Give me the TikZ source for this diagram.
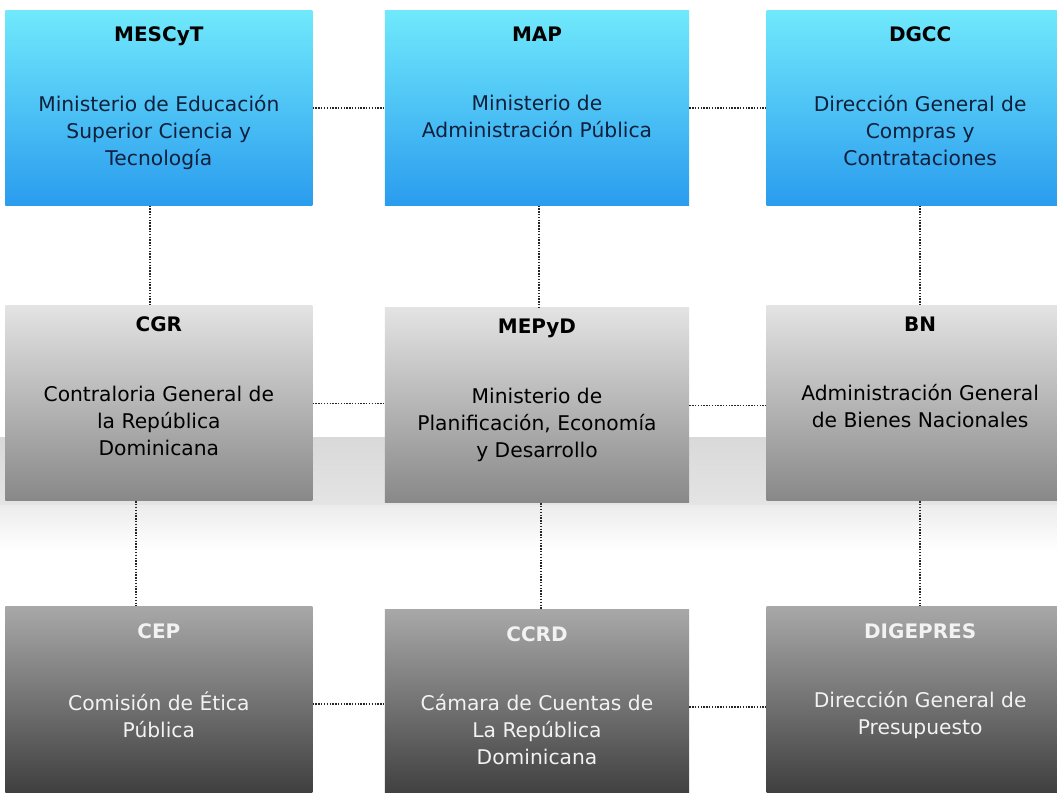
\documentclass[tikz,border=0pt]{standalone}
\usepackage{fontspec}
\setmainfont{DejaVu Sans}
\usetikzlibrary{positioning,calc}
\definecolor{cyantop}{HTML}{70E9FC}
\definecolor{cyanbot}{HTML}{2A9CEE}
\definecolor{greytop}{HTML}{E3E3E3}
\definecolor{greybot}{HTML}{888888}
\definecolor{darktop}{HTML}{A8A8A8}
\definecolor{darkbot}{HTML}{3A3A3A}
\definecolor{navytext}{HTML}{10203C}
\definecolor{lighttext}{HTML}{F2F2F2}
\definecolor{linkgrey}{HTML}{262626}
\definecolor{bandtop}{HTML}{D9D9D9}
\definecolor{bandbot}{HTML}{E4E4E4}
\definecolor{fadetop}{HTML}{ECECEC}

\begin{document}
\begin{tikzpicture}[
  x=0.025cm, y=-0.025cm,
  org/.style={rectangle, inner sep=0pt, minimum width=7.675cm, minimum height=4.875cm},
  bluebox/.style={org, top color=cyantop, bottom color=cyanbot},
  greybox/.style={org, top color=greytop, bottom color=greybot},
  darkbox/.style={org, top color=darktop, bottom color=darkbot},
  ttl/.style={font=\fontsize{14.2}{17}\selectfont\bfseries, inner sep=0pt},
  txt/.style={font=\fontsize{14.4}{19.2}\selectfont, align=center, inner sep=0pt},
  link/.style={line width=1.3pt, linkgrey, dash pattern=on 1pt off 1pt}
]
\useasboundingbox[fill=white] (0,0) rectangle (1057,793);
\clip (0,0) rectangle (1057,793);

% light band behind the lower half of the middle row
\shade[top color=bandtop, bottom color=bandbot] (0,437) rectangle (1057,505);
\shade[top color=fadetop, bottom color=white] (0,505) rectangle (1057,550);

% boxes
\node[bluebox, anchor=north west] (mescyt) at (5,10) {};
\node[bluebox, minimum width=7.6cm, right=1.8cm of mescyt] (map) {};
\node[bluebox, right=1.925cm of map] (dgcc) {};
\node[greybox, below=2.5cm of mescyt] (cgr) {};
\node[greybox, minimum width=7.6cm, below=2.55cm of map] (mepyd) {};
\node[greybox, below=2.5cm of dgcc] (bn) {};
\node[darkbox, below=2.625cm of cgr] (cep) {};
\node[darkbox, minimum width=7.6cm, below=2.65cm of mepyd] (ccrd) {};
\node[darkbox, below=2.625cm of bn] (digepres) {};

% titles and names
\node[ttl, below=0.42cm of mescyt.north] (mescyt-ttl) {MESCyT};
\node[txt, navytext, below=2.12cm of mescyt.north] (mescyt-txt) {Ministerio de Educación\\Superior Ciencia y\\Tecnología};
\node[ttl, below=0.42cm of map.north] (map-ttl) {MAP};
\node[txt, navytext, below=2.12cm of map.north] (map-txt) {Ministerio de\\Administración Pública};
\node[ttl, below=0.42cm of dgcc.north] (dgcc-ttl) {DGCC};
\node[txt, navytext, below=2.12cm of dgcc.north] (dgcc-txt) {Dirección General de\\Compras y\\Contrataciones};

\node[ttl, below=0.27cm of cgr.north] (cgr-ttl) {CGR};
\node[txt, below=2.0cm of cgr.north] (cgr-txt) {Contraloria General de\\la República\\Dominicana};
\node[ttl, below=0.27cm of mepyd.north] (mepyd-ttl) {MEPyD};
\node[txt, below=2.0cm of mepyd.north] (mepyd-txt) {Ministerio de\\Planificación, Economía\\y Desarrollo};
\node[ttl, below=0.27cm of bn.north] (bn-ttl) {BN};
\node[txt, below=1.95cm of bn.north] (bn-txt) {Administración General\\de Bienes Nacionales};

\node[ttl, lighttext, below=0.42cm of cep.north] (cep-ttl) {CEP};
\node[txt, lighttext, below=2.12cm of cep.north] (cep-txt) {Comisión de Ética\\Pública};
\node[ttl, lighttext, below=0.42cm of ccrd.north] (ccrd-ttl) {CCRD};
\node[txt, lighttext, below=2.12cm of ccrd.north] (ccrd-txt) {Cámara de Cuentas de\\La República\\Dominicana};
\node[ttl, lighttext, below=0.42cm of digepres.north] (digepres-ttl) {DIGEPRES};
\node[txt, lighttext, below=2.12cm of digepres.north] (digepres-txt) {Dirección General de\\Presupuesto};

% dotted links
\draw[link] (mescyt.east) -- (mescyt.east -| map.west);
\draw[link] (map.east) -- (map.east -| dgcc.west);
\draw[link] (cgr.east) -- (cgr.east -| mepyd.west);
\draw[link] (mepyd.east) -- (mepyd.east -| bn.west);
\draw[link] (cep.east) -- (cep.east -| ccrd.west);
\draw[link] (ccrd.east) -- (ccrd.east -| digepres.west);
\draw[link] ($(mescyt.south)+(-8.5,0)$) -- ($(cgr.north)+(-8.5,0)$);
\draw[link] ($(map.south)+(2,0)$) -- ($(mepyd.north)+(2,0)$);
\draw[link] (dgcc.south) -- (bn.north);
\draw[link] ($(cgr.south)+(-22.5,0)$) -- ($(cep.north)+(-22.5,0)$);
\draw[link] ($(mepyd.south)+(4,0)$) -- ($(ccrd.north)+(4,0)$);
\draw[link] (bn.south) -- (digepres.north);
\end{tikzpicture}
\end{document}
